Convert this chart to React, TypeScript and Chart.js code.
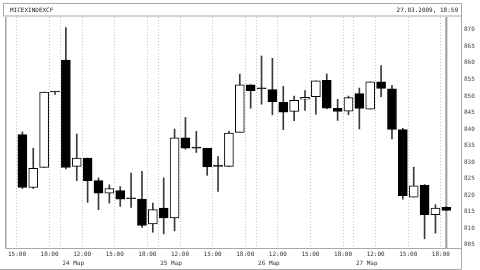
import React, { useEffect, useRef } from 'react';
import { Chart, registerables } from 'chart.js';

Chart.register(...registerables);

// Hourly candles, 23–27 Mar 2009 (MICEXINDEXCF)
const OPEN = [
  838.3, 822.3, 828.4, 851.2, 860.9, 828.7, 831.2, 824.4, 820.6, 821.4,
  818.9, 818.8, 811.3, 816.1, 813.1, 837.3, 834.2, 834.2, 828.7, 828.7,
  839.0, 853.4, 852.2, 851.9, 848.1, 845.3, 849.0, 849.8, 854.7, 846.3,
  845.4, 850.7, 846.0, 854.3, 852.2, 839.8, 819.4, 823.0, 814.1, 816.3,
];
const HIGH = [
  839.1, 834.2, 851.2, 851.2, 870.7, 838.5, 831.2, 825.2, 823.1, 822.6,
  826.7, 827.2, 817.6, 825.2, 840.0, 843.5, 839.3, 834.2, 831.7, 839.3,
  856.6, 853.4, 862.1, 861.4, 852.9, 850.0, 851.6, 854.6, 856.7, 849.0,
  850.0, 852.4, 854.3, 859.2, 853.2, 840.2, 828.5, 823.2, 817.1, 816.5,
];
const LOW = [
  822.0, 822.0, 828.4, 850.5, 827.9, 824.4, 817.8, 815.6, 817.6, 816.6,
  816.3, 810.2, 808.8, 808.3, 809.2, 833.9, 832.9, 826.0, 821.1, 828.7,
  839.0, 846.3, 847.5, 844.3, 839.8, 842.5, 845.6, 844.5, 846.1, 842.6,
  844.3, 840.0, 846.0, 849.8, 837.0, 818.8, 819.4, 806.8, 808.5, 815.3,
];
const CLOSE = [
  822.3, 828.1, 851.2, 851.2, 828.4, 831.2, 824.4, 820.6, 822.0, 818.8,
  818.9, 810.8, 815.6, 813.1, 837.3, 834.2, 834.2, 828.5, 828.7, 838.8,
  853.4, 851.6, 852.2, 848.3, 845.1, 848.7, 849.6, 854.6, 846.3, 845.3,
  849.5, 846.2, 854.3, 852.3, 839.9, 819.8, 822.8, 814.1, 816.1, 815.4,
];

// time grid lines (candle index where the hour starts) and labels
const TIME_IDX = [0, 3, 6, 9, 12, 15, 18, 21, 24, 27, 30, 33, 36, 39];
const TIME_LABELS = ['15:00', '18:00', '12:00', '15:00', '18:00', '12:00', '15:00', '18:00', '12:00', '15:00', '18:00', '12:00', '15:00', '18:00'];
// day separators (index of first candle of the day) and date labels
const DAY_IDX = [4, 13, 22, 31];
const DAY_LABELS = ['24 Мар', '25 Мар', '26 Мар', '27 Мар'];

const Y_TICKS = [805, 810, 815, 820, 825, 830, 835, 840, 845, 850, 855, 860, 865, 870];
const Y_MIN = 804.0;
const Y_MAX = 873.9;
const X_MIN = -1.6;
const X_MAX = 40.35;

const TITLE = 'MICEXINDEXCF';
const STAMP = '27.03.2009, 18:59';

const FONT = '"DejaVu Sans Mono", "Liberation Mono", monospace';
const FRAME = '#a8a8a8';

const framePlugin = {
  id: 'frame',
  beforeDraw(chart: any) {
    const { ctx, chartArea: a } = chart;
    ctx.save();
    ctx.fillStyle = '#fff';
    ctx.fillRect(0, 0, chart.width, chart.height);
    ctx.restore();
  },
  afterDraw(chart: any) {
    const { ctx, chartArea: a } = chart;
    ctx.save();
    ctx.strokeStyle = FRAME;
    ctx.lineWidth = 1;
    // header box
    ctx.strokeRect(3.5, 3.5, a.right - 3, 12.5);
    // plot frame
    ctx.beginPath();
    ctx.moveTo(a.left + 0.5, a.top);
    ctx.lineTo(a.left + 0.5, a.bottom + 0.5);
    ctx.lineTo(a.right, a.bottom + 0.5);
    ctx.moveTo(a.right + 0.5, 3.5);
    ctx.lineTo(a.right + 0.5, chart.height - 0.5);
    ctx.moveTo(0, chart.height - 0.5);
    ctx.lineTo(a.right + 0.5, chart.height - 0.5);
    ctx.stroke();
    ctx.lineWidth = 1;
    ctx.strokeStyle = '#d0d0d0';
    ctx.beginPath();
    ctx.moveTo(a.left + 1.5, a.top);
    ctx.lineTo(a.left + 1.5, a.bottom);
    ctx.stroke();
    // header text
    ctx.fillStyle = '#222';
    ctx.font = '6px ' + FONT;
    ctx.textBaseline = 'middle';
    ctx.textAlign = 'left';
    ctx.fillText(TITLE, 10, 10);
    ctx.textAlign = 'right';
    ctx.fillText(STAMP, a.right - 3, 10);
    ctx.restore();
  },
};

export default function App() {
  const ref = useRef<HTMLCanvasElement>(null);

  useEffect(() => {
    const canvas = ref.current;
    if (!canvas) return;
    const idx = OPEN.map((_, i) => i);
    const last = idx[idx.length - 1];
    const labelFont = { family: FONT, size: 6 };

    const chart = new Chart(canvas, {
      type: 'bar',
      data: {
        datasets: [
          {
            type: 'line',
            data: [
              { x: last, y: Y_MIN },
              { x: last, y: Y_MAX },
            ],
            borderColor: '#9a9a9a',
            borderWidth: 2,
            pointRadius: 0,
            order: 3,
          } as any,
          {
            type: 'bar',
            data: idx.map((i) => ({ x: i, y: [LOW[i], HIGH[i]] })),
            backgroundColor: '#3a3a3a',
            barThickness: 1,
            grouped: false,
            order: 2,
          } as any,
          {
            type: 'bar',
            data: idx.map((i) => ({ x: i, y: [OPEN[i], CLOSE[i]] })),
            backgroundColor: idx.map((i) => (CLOSE[i] > OPEN[i] ? '#ffffff' : '#000000')),
            borderColor: '#000000',
            borderWidth: 1,
            borderSkipped: false,
            barThickness: 9,
            minBarLength: 1,
            grouped: false,
            order: 1,
          } as any,
        ],
      },
      options: {
        responsive: false,
        animation: false,
        devicePixelRatio: 1,
        layout: { padding: { top: 17, left: 5, right: 0, bottom: 0 } },
        plugins: { legend: { display: false }, tooltip: { enabled: false } },
        scales: {
          x: {
            type: 'linear',
            position: 'bottom',
            min: X_MIN,
            max: X_MAX,
            offset: false,
            weight: 0,
            afterBuildTicks: (axis: any) => {
              const vals = [
                ...TIME_IDX.map((i) => i - 0.5),
                ...DAY_IDX.map((i) => i - 0.5),
              ].sort((p, q) => p - q);
              axis.ticks = vals.map((v) => ({ value: v }));
            },
            afterFit: (axis: any) => {
              axis.height = 11;
            },
            grid: {
              offset: false,
              color: '#c4c4c4',
              lineWidth: 1,
              drawTicks: false,
            },
            border: { display: false, dash: [1, 2] },
            ticks: {
              autoSkip: false,
              maxRotation: 0,
              minRotation: 0,
              padding: 3,
              color: '#333',
              font: labelFont,
              callback: (value: any) => {
                const k = TIME_IDX.findIndex((i) => Math.abs(i - 0.5 - value) < 1e-6);
                return k >= 0 ? TIME_LABELS[k] : '';
              },
            },
          },
          x2: {
            type: 'linear',
            position: 'bottom',
            min: X_MIN,
            max: X_MAX,
            offset: false,
            weight: 1,
            afterBuildTicks: (axis: any) => {
              axis.ticks = DAY_IDX.map((i) => ({ value: i - 0.32 }));
            },
            afterFit: (axis: any) => {
              axis.height = 11;
            },
            grid: { display: false, drawTicks: false },
            border: { display: false },
            ticks: {
              autoSkip: false,
              maxRotation: 0,
              minRotation: 0,
              align: 'start',
              padding: 1,
              color: '#333',
              font: labelFont,
              callback: (_v: any, k: number) => DAY_LABELS[k],
            },
          },
          y: {
            type: 'linear',
            position: 'right',
            min: Y_MIN,
            max: Y_MAX,
            beginAtZero: false,
            afterBuildTicks: (axis: any) => {
              axis.ticks = Y_TICKS.map((v) => ({ value: v }));
            },
            afterFit: (axis: any) => {
              axis.width = 19;
            },
            grid: { display: false, drawTicks: false },
            border: { display: false },
            ticks: {
              padding: 3,
              color: '#444',
              font: labelFont,
              callback: (v: any) => String(v),
            },
          },
        },
      } as any,
      plugins: [framePlugin],
    });
    return () => chart.destroy();
  }, []);

  return (
    <div style={{ position: 'fixed', left: 0, top: 0, width: 480, height: 270, background: '#fff' }}>
      <canvas ref={ref} width={480} height={270} />
    </div>
  );
}
